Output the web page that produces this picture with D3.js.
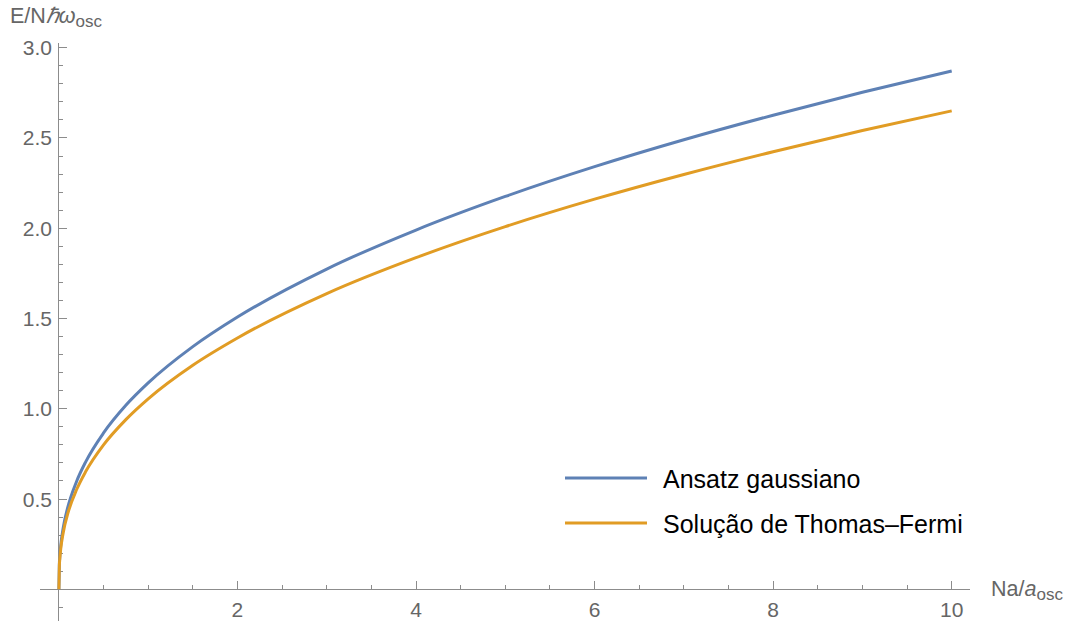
<!DOCTYPE html>
<html>
<head>
<meta charset="utf-8">
<script src="https://cdn.jsdelivr.net/npm/d3@7"></script>
<style>
  body { margin: 0; background: #fff; }
  svg { display: block; font-family: "Liberation Sans", Arial, sans-serif; }
</style>
</head>
<body>
<svg id="chart" width="1069" height="621"></svg>
<script>
// values
const xValues = [0, 0.005, 0.01, 0.02, 0.05, 0.1, 0.2, 0.3, 0.5, 0.75, 1, 1.5, 2, 3, 4, 5, 6, 7, 8, 9, 10];
const gaussValues = [0, 0.137, 0.181, 0.239, 0.345, 0.455, 0.600, 0.706, 0.866, 1.019, 1.143, 1.344, 1.508, 1.774, 1.990, 2.176, 2.341, 2.490, 2.626, 2.753, 2.871];
const tfValues = [0, 0.127, 0.167, 0.221, 0.318, 0.420, 0.554, 0.652, 0.800, 0.940, 1.055, 1.241, 1.392, 1.638, 1.837, 2.009, 2.161, 2.298, 2.424, 2.541, 2.650];
const seriesNames = ["Ansatz gaussiano", "Solução de Thomas\u2013Fermi"];
const xTicks = [2, 4, 6, 8, 10];
const yTicks = [0.5, 1.0, 1.5, 2.0, 2.5, 3.0];

const COLORS = ["#5e81b5", "#e19c24"];
const AXIS_COLOR = "#8c8c8c";
const LABEL_COLOR = "#666";
const TICK_FONT = 21;

const svg = d3.select("#chart");

const x = d3.scaleLinear().domain([0, 10]).range([58.9, 951.7]);
const y = d3.scaleLinear().domain([0, 3]).range([589.3, 47.7]);

// axes lines
const axes = svg.append("g").attr("stroke", AXIS_COLOR).attr("stroke-width", 1).attr("shape-rendering", "crispEdges");
axes.append("line")
    .attr("x1", 40).attr("x2", 970)
    .attr("y1", y(0)).attr("y2", y(0));
axes.append("line")
    .attr("x1", x(0)).attr("x2", x(0))
    .attr("y1", 43).attr("y2", 621);

// x ticks: major every 2, minor every 0.5, pointing up
const xMinor = d3.range(0.5, 10.01, 0.5).filter(v => !xTicks.some(t => Math.abs(t - v) < 1e-6));
axes.selectAll(".xminor").data(xMinor).join("line")
    .attr("x1", d => x(d)).attr("x2", d => x(d))
    .attr("y1", y(0)).attr("y2", y(0) - 4.5);
axes.selectAll(".xmajor").data(xTicks).join("line")
    .attr("x1", d => x(d)).attr("x2", d => x(d))
    .attr("y1", y(0)).attr("y2", y(0) - 8);

// y ticks: major every 0.5, minor every 0.1, pointing right
const yMinor = d3.range(-0.1, 3.01, 0.1).map(v => +v.toFixed(2)).filter(v => Math.abs(v) > 1e-6 && !yTicks.some(t => Math.abs(t - v) < 1e-6));
axes.selectAll(".yminor").data(yMinor).join("line")
    .attr("x1", x(0)).attr("x2", x(0) + 4.5)
    .attr("y1", d => y(d)).attr("y2", d => y(d));
axes.selectAll(".ymajor").data(yTicks).join("line")
    .attr("x1", x(0)).attr("x2", x(0) + 8)
    .attr("y1", d => y(d)).attr("y2", d => y(d));

// tick labels
svg.append("g").selectAll("text").data(xTicks).join("text")
    .attr("x", d => x(d))
    .attr("y", 616.5)
    .attr("text-anchor", "middle")
    .attr("font-size", TICK_FONT)
    .attr("fill", LABEL_COLOR)
    .text(d => d);
svg.append("g").selectAll("text").data(yTicks).join("text")
    .attr("x", 52)
    .attr("y", d => y(d) + 7.5)
    .attr("text-anchor", "end")
    .attr("font-size", TICK_FONT)
    .attr("fill", LABEL_COLOR)
    .text(d => d.toFixed(1));

// axis labels
const yLab = svg.append("text")
    .attr("x", 10).attr("y", 22.5)
    .attr("font-size", 21.5)
    .attr("fill", LABEL_COLOR);
yLab.append("tspan").text("E/N");
yLab.append("tspan").attr("font-style", "italic").text("\u210Fω");
yLab.append("tspan").attr("font-size", 17).attr("dy", 4).text("osc");

const xLab = svg.append("text")
    .attr("x", 991).attr("y", 596)
    .attr("font-size", 21.5)
    .attr("fill", LABEL_COLOR);
xLab.append("tspan").text("Na/");
xLab.append("tspan").attr("font-style", "italic").text("a");
xLab.append("tspan").attr("font-size", 17).attr("dy", 4).text("osc");

// curves
const series = [gaussValues, tfValues];
const line = d3.line()
    .x(d => x(d[0]))
    .y(d => y(d[1]))
    .curve(d3.curveMonotoneX);

svg.append("g").attr("fill", "none")
    .selectAll("path").data(series).join("path")
    .attr("stroke", (d, i) => COLORS[i])
    .attr("stroke-width", 3)
    .attr("d", vals => line(xValues.map((xv, i) => [xv, vals[i]])));

// legend
const legend = svg.append("g").selectAll("g").data(seriesNames).join("g")
    .attr("transform", (d, i) => `translate(565, ${478 + i * 45})`);
legend.append("line")
    .attr("x1", 0).attr("x2", 82)
    .attr("stroke", (d, i) => COLORS[i])
    .attr("stroke-width", 3);
legend.append("text")
    .attr("x", 98).attr("y", 9.5)
    .attr("font-size", 25)
    .attr("fill", "#000")
    .text(d => d);
</script>
</body>
</html>
